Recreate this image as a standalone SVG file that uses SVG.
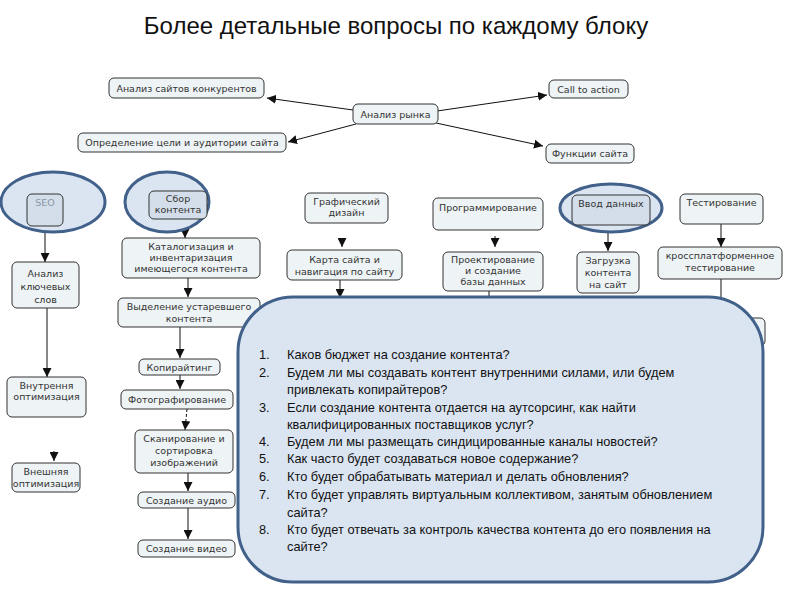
<svg xmlns="http://www.w3.org/2000/svg" width="794" height="595" viewBox="0 0 794 595">
<style>
.bx{fill:#eef3f6;stroke:#333;stroke-width:1}
.bx2{fill:#d3deea;stroke:#333;stroke-width:1}
.el{fill:#dbe5f1;stroke:#41608a;stroke-width:3}
.t{font-family:"DejaVu Sans",Verdana,sans-serif;font-size:9.5px;fill:#333;text-anchor:middle}
.ln{stroke:#111;stroke-width:1;fill:none}
.q{font-family:"Liberation Sans",Arial,sans-serif;font-size:12.8px;fill:#111}
</style>
<defs>
<marker id="ah" markerWidth="9" markerHeight="9" refX="9" refY="4.5" orient="auto" markerUnits="userSpaceOnUse"><path d="M0,0 L9,4.5 L0,9 Z" fill="#111"/></marker>
</defs>
<rect width="794" height="595" fill="#fff"/>
<text x="396" y="34" font-family="Liberation Sans, Arial, sans-serif" font-size="24" text-anchor="middle" fill="#111">Более детальные вопросы по каждому блоку</text>

<g id="connectors">
<line class="ln" x1="353" y1="110" x2="267" y2="98" marker-end="url(#ah)"/>
<line class="ln" x1="356" y1="124" x2="288" y2="142" marker-end="url(#ah)"/>
<line class="ln" x1="437" y1="111" x2="547" y2="95" marker-end="url(#ah)"/>
<line class="ln" x1="436" y1="123" x2="543" y2="146" marker-end="url(#ah)"/>
<line class="ln" x1="45" y1="226" x2="45" y2="262" marker-end="url(#ah)"/>
<line class="ln" x1="47" y1="308" x2="47" y2="377" marker-end="url(#ah)"/>
<line class="ln" x1="54" y1="451" x2="54" y2="461" marker-end="url(#ah)"/>
<line class="ln" x1="185" y1="219" x2="185" y2="238" marker-end="url(#ah)"/>
<line class="ln" x1="188" y1="278" x2="188" y2="297" marker-end="url(#ah)"/>
<line class="ln" x1="180" y1="327" x2="180" y2="358" marker-end="url(#ah)"/>
<line class="ln" x1="180" y1="375" x2="180" y2="389" marker-end="url(#ah)"/>
<line class="ln" x1="187" y1="409" x2="185" y2="430" stroke-dasharray="3,2" marker-end="url(#ah)"/>
<line class="ln" x1="188" y1="473" x2="188" y2="491" marker-end="url(#ah)"/>
<line class="ln" x1="188" y1="508" x2="188" y2="539" marker-end="url(#ah)"/>
<line class="ln" x1="342" y1="238" x2="342" y2="247" marker-end="url(#ah)"/>
<line class="ln" x1="340" y1="280" x2="340" y2="298" marker-end="url(#ah)"/>
<line class="ln" x1="495" y1="236" x2="495" y2="247" marker-end="url(#ah)"/>
<line class="ln" x1="489" y1="291" x2="489" y2="300"/>
<line class="ln" x1="608" y1="225" x2="608" y2="251" marker-end="url(#ah)"/>
<line class="ln" x1="721" y1="224" x2="721" y2="247" marker-end="url(#ah)"/>
<line class="ln" x1="721" y1="279" x2="721" y2="300"/>
</g>

<g id="n-competitors"><rect class="bx" x="109" y="78" width="155" height="20" rx="5"/><text class="t" x="186.5" y="91.5">Анализ сайтов конкурентов</text></g>
<g id="n-market"><rect class="bx" x="353" y="104" width="85" height="20" rx="5"/><text class="t" x="395.5" y="117.5">Анализ рынка</text></g>
<g id="n-goals"><rect class="bx" x="78" y="133" width="208" height="19" rx="5"/><text class="t" x="182" y="146">Определение цели и аудитории сайта</text></g>
<g id="n-cta"><rect class="bx" x="549" y="80" width="79" height="18" rx="5"/><text class="t" x="588.5" y="92.5">Call to action</text></g>
<g id="n-functions"><rect class="bx" x="546" y="144" width="88" height="19" rx="5"/><text class="t" x="590" y="157">Функции сайта</text></g>

<g id="n-seo"><ellipse class="el" cx="53" cy="202" rx="52" ry="30"/><rect class="bx2" x="27" y="194" width="36" height="32" rx="5"/><text class="t" x="45" y="206" style="fill:#8a97a6">SEO</text></g>
<g id="n-keywords"><rect class="bx" x="12" y="262" width="67" height="46" rx="5"/><text class="t" x="45.5" y="277">Анализ</text><text class="t" x="45.5" y="290">ключевых</text><text class="t" x="45.5" y="303">слов</text></g>
<g id="n-internal"><rect class="bx" x="7" y="377" width="79" height="40" rx="5"/><text class="t" x="46.5" y="389">Внутрення</text><text class="t" x="46.5" y="400">оптимизация</text></g>
<g id="n-external"><rect class="bx" x="12" y="463" width="68" height="29" rx="5"/><text class="t" x="46" y="475">Внешняя</text><text class="t" x="46" y="487">оптимизация</text></g>

<g id="n-collect"><ellipse class="el" cx="167" cy="202" rx="42" ry="30"/><rect class="bx2" x="149" y="191" width="58" height="28" rx="5"/><text class="t" x="178" y="202">Сбор</text><text class="t" x="178" y="213">контента</text></g>
<g id="n-catalog"><rect class="bx" x="122" y="238" width="138" height="40" rx="5"/><text class="t" x="191" y="250">Каталогизация и</text><text class="t" x="191" y="261">инвентаризация</text><text class="t" x="191" y="272">имеющегося контента</text></g>
<g id="n-outdated"><rect class="bx" x="118" y="298" width="142" height="29" rx="5"/><text class="t" x="189" y="310">Выделение устаревшего</text><text class="t" x="189" y="322">контента</text></g>
<g id="n-copy"><rect class="bx" x="139" y="359" width="81" height="16" rx="5"/><text class="t" x="179.5" y="370.5">Копирайтинг</text></g>
<g id="n-photo"><rect class="bx" x="121" y="390" width="112" height="19" rx="5"/><text class="t" x="177" y="403">Фотографирование</text></g>
<g id="n-scan"><rect class="bx" x="135" y="430" width="98" height="43" rx="5"/><text class="t" x="184" y="442">Сканирование и</text><text class="t" x="184" y="454">сортировка</text><text class="t" x="184" y="466">изображений</text></g>
<g id="n-audio"><rect class="bx" x="138" y="492" width="97" height="16" rx="5"/><text class="t" x="186.5" y="503.5">Создание аудио</text></g>
<g id="n-video"><rect class="bx" x="138" y="540" width="97" height="17" rx="5"/><text class="t" x="186.5" y="552">Создание видео</text></g>

<g id="n-design"><rect class="bx" x="305" y="193" width="83" height="30" rx="5"/><text class="t" x="346.5" y="205">Графический</text><text class="t" x="346.5" y="216">дизайн</text></g>
<g id="n-sitemap"><rect class="bx" x="287" y="250" width="115" height="30" rx="5"/><text class="t" x="344.5" y="263">Карта сайта и</text><text class="t" x="344.5" y="275">навигация по сайту</text></g>
<g id="n-programming"><rect class="bx" x="433" y="198" width="110" height="32" rx="5"/><text class="t" x="488" y="211">Программирование</text></g>
<g id="n-database"><rect class="bx" x="443" y="252" width="100" height="39" rx="5"/><text class="t" x="493" y="263">Проектирование</text><text class="t" x="493" y="274">и создание</text><text class="t" x="493" y="285">базы данных</text></g>

<g id="n-input"><ellipse class="el" cx="611" cy="208" rx="51" ry="24"/><rect class="bx2" x="572" y="195" width="78" height="30" rx="5"/><text class="t" x="611" y="207">Ввод данных</text></g>
<g id="n-upload"><rect class="bx" x="577" y="252" width="62" height="41" rx="5"/><text class="t" x="608" y="264">Загрузка</text><text class="t" x="608" y="276">контента</text><text class="t" x="608" y="288">на сайт</text></g>
<g id="n-testing"><rect class="bx" x="680" y="194" width="83" height="30" rx="5"/><text class="t" x="721.5" y="206">Тестирование</text></g>
<g id="n-cross"><rect class="bx" x="658" y="247" width="124" height="32" rx="5"/><text class="t" x="720" y="259">кроссплатформенное</text><text class="t" x="720" y="271">тестирование</text></g>
<g id="n-hidden"><rect class="bx" x="690" y="318" width="75" height="28" rx="5"/></g>

<g id="callout">
<rect x="238" y="297" width="525" height="285" rx="55" fill="#dbe5f1" stroke="#41608a" stroke-width="3"/>
<g class="q">
<text x="259" y="359">1.</text><text x="287" y="359">Каков бюджет на создание контента?</text>
<text x="259" y="377">2.</text><text x="287" y="377">Будем ли мы создавать контент внутренними силами, или будем</text>
<text x="287" y="394">привлекать копирайтеров?</text>
<text x="259" y="412">3.</text><text x="287" y="412">Если создание контента отдается на аутсорсинг, как найти</text>
<text x="287" y="429">квалифицированных поставщиков услуг?</text>
<text x="259" y="446">4.</text><text x="287" y="446">Будем ли мы размещать синдицированные каналы новостей?</text>
<text x="259" y="463">5.</text><text x="287" y="463">Как часто будет создаваться новое содержание?</text>
<text x="259" y="481">6.</text><text x="287" y="481">Кто будет обрабатывать материал и делать обновления?</text>
<text x="259" y="499">7.</text><text x="287" y="499">Кто будет управлять виртуальным коллективом, занятым обновлением</text>
<text x="287" y="517">сайта?</text>
<text x="259" y="534">8.</text><text x="287" y="534">Кто будет отвечать за контроль качества контента до его появления на</text>
<text x="287" y="551">сайте?</text>
</g>
</g>
</svg>
